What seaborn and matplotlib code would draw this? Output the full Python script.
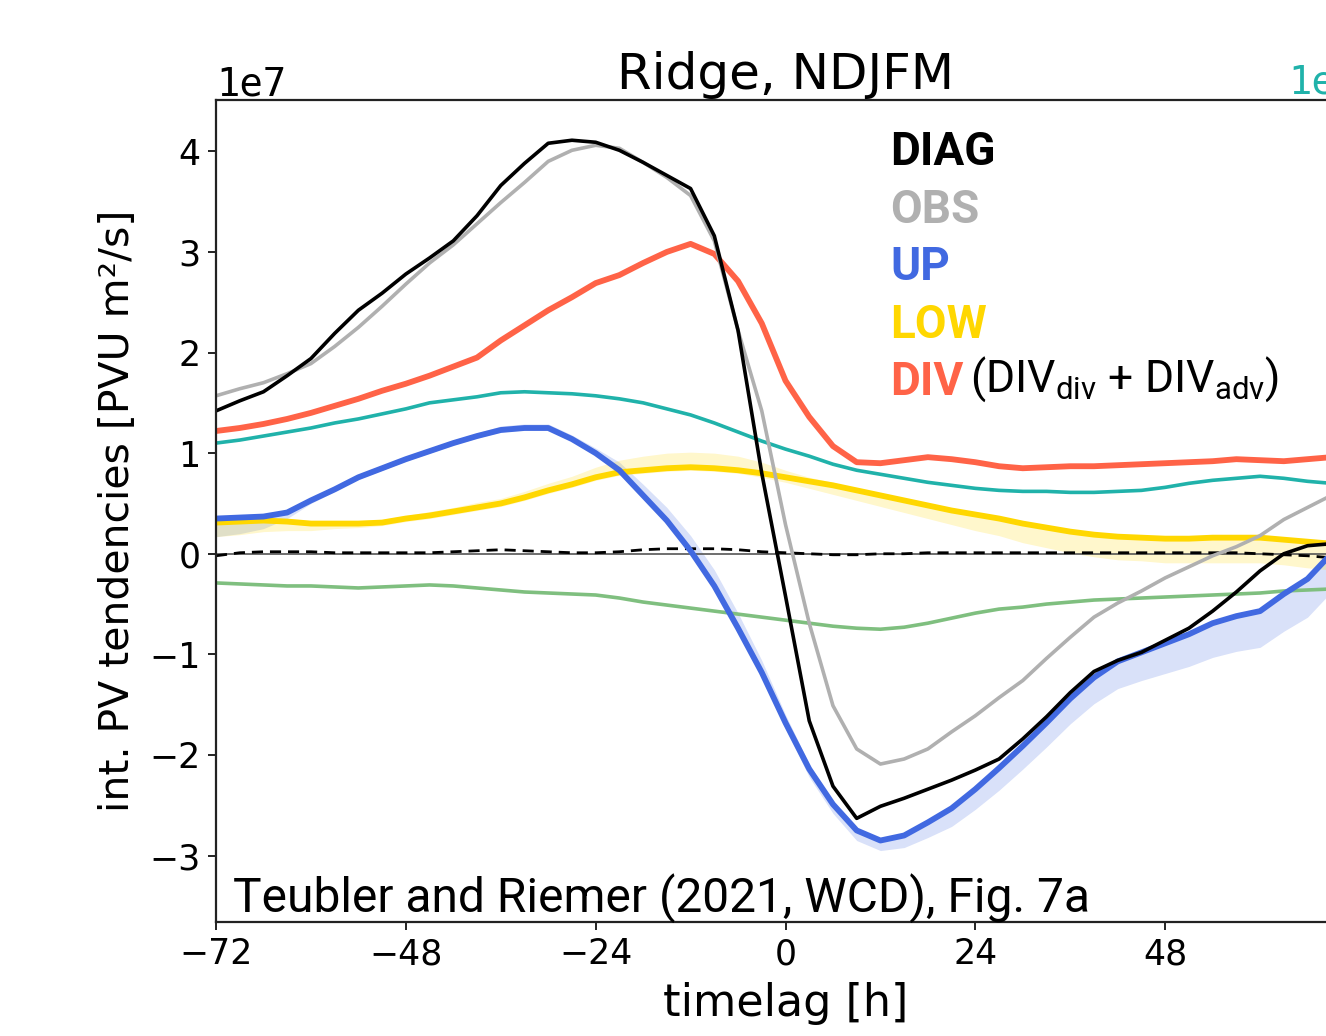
import numpy as np
import pandas as pd
import matplotlib
matplotlib.use("Agg")
import matplotlib.pyplot as plt
import seaborn as sns

# time lag relative to ridge onset [h], 3-hourly
timelag = list(range(-72, 73, 3))

# integrated PV tendencies, units of 1e7 PVU m^2/s
DIAG = [1.42, 1.52, 1.61, 1.77, 1.94, 2.19, 2.42, 2.59, 2.78, 2.94, 3.11, 3.36, 3.66,
        3.88, 4.08, 4.11, 4.09, 4.01, 3.89, 3.76, 3.63, 3.16, 2.22, 0.80, -0.42, -1.66,
        -2.31, -2.63, -2.51, -2.43, -2.34, -2.25, -2.15, -2.04, -1.84, -1.62, -1.38, -1.17,
        -1.06, -0.98, -0.86, -0.74, -0.57, -0.38, -0.17, 0.00, 0.08, 0.10, 0.11]
OBS = [1.57, 1.64, 1.70, 1.79, 1.89, 2.06, 2.25, 2.46, 2.68, 2.89, 3.07, 3.28, 3.49,
       3.69, 3.90, 4.01, 4.06, 4.03, 3.89, 3.74, 3.56, 3.11, 2.22, 1.42, 0.29, -0.69,
       -1.51, -1.94, -2.09, -2.04, -1.94, -1.77, -1.61, -1.43, -1.26, -1.04, -0.83, -0.63,
       -0.49, -0.37, -0.24, -0.13, -0.02, 0.07, 0.18, 0.34, 0.46, 0.58, 0.66]
UP = [0.35, 0.36, 0.37, 0.41, 0.53, 0.64, 0.76, 0.85, 0.94, 1.02, 1.10, 1.17, 1.23,
      1.25, 1.25, 1.14, 1.00, 0.83, 0.58, 0.33, 0.03, -0.32, -0.74, -1.18, -1.68, -2.14,
      -2.49, -2.75, -2.85, -2.80, -2.67, -2.53, -2.34, -2.13, -1.91, -1.68, -1.44, -1.23,
      -1.07, -0.98, -0.89, -0.80, -0.69, -0.62, -0.57, -0.40, -0.25, 0.00, 0.18]
LOW = [0.31, 0.32, 0.33, 0.32, 0.30, 0.30, 0.30, 0.31, 0.35, 0.38, 0.42, 0.46, 0.50,
       0.56, 0.63, 0.69, 0.76, 0.81, 0.83, 0.85, 0.86, 0.85, 0.83, 0.80, 0.76, 0.72,
       0.68, 0.63, 0.58, 0.53, 0.48, 0.43, 0.39, 0.35, 0.30, 0.26, 0.22, 0.19, 0.17,
       0.16, 0.15, 0.15, 0.16, 0.16, 0.16, 0.14, 0.12, 0.10, 0.09]
DIV = [1.22, 1.25, 1.29, 1.34, 1.40, 1.47, 1.54, 1.62, 1.69, 1.77, 1.86, 1.95, 2.12,
       2.27, 2.42, 2.55, 2.69, 2.77, 2.89, 3.00, 3.08, 2.98, 2.71, 2.29, 1.72, 1.36,
       1.07, 0.91, 0.90, 0.93, 0.96, 0.94, 0.91, 0.87, 0.85, 0.86, 0.87, 0.87, 0.88,
       0.89, 0.90, 0.91, 0.92, 0.94, 0.93, 0.92, 0.94, 0.96, 0.97]
DIV_div = [1.10, 1.13, 1.17, 1.21, 1.25, 1.30, 1.34, 1.39, 1.44, 1.50, 1.53, 1.56, 1.60,
           1.61, 1.60, 1.59, 1.57, 1.54, 1.50, 1.44, 1.38, 1.30, 1.21, 1.12, 1.04, 0.97,
           0.89, 0.83, 0.79, 0.75, 0.71, 0.68, 0.65, 0.63, 0.62, 0.62, 0.61, 0.61, 0.62,
           0.63, 0.66, 0.70, 0.73, 0.75, 0.77, 0.75, 0.72, 0.70, 0.69]
DIV_adv = [-0.29, -0.30, -0.31, -0.32, -0.32, -0.33, -0.34, -0.33, -0.32, -0.31, -0.32,
           -0.34, -0.36, -0.38, -0.39, -0.40, -0.41, -0.44, -0.48, -0.51, -0.54, -0.57,
           -0.60, -0.63, -0.66, -0.69, -0.72, -0.74, -0.75, -0.73, -0.69, -0.64, -0.59,
           -0.55, -0.53, -0.50, -0.48, -0.46, -0.45, -0.44, -0.43, -0.42, -0.41, -0.40,
           -0.39, -0.37, -0.36, -0.35, -0.34]
RES = [-0.02, 0.01, 0.02, 0.02, 0.02, 0.01, 0.01, 0.01, 0.01, 0.01, 0.02, 0.03, 0.04,
       0.03, 0.02, 0.01, 0.01, 0.02, 0.04, 0.05, 0.05, 0.05, 0.04, 0.02, 0.01, 0.00,
       -0.01, -0.01, 0.00, 0.00, 0.01, 0.01, 0.01, 0.01, 0.01, 0.01, 0.01, 0.01, 0.01,
       0.01, 0.01, 0.01, 0.01, 0.01, 0.00, -0.01, -0.02, -0.04, -0.05]

# spread of the UP and LOW ensembles (below / above the mean)
UP_below = [0.18, 0.16, 0.12, 0.06, 0.03, 0.02, 0.02, 0.02, 0.02, 0.02, 0.02, 0.02, 0.02,
            0.02, 0.02, 0.02, 0.02, 0.02, 0.02, 0.02, 0.02, 0.02, 0.03, 0.05, 0.06, 0.08,
            0.09, 0.10, 0.10, 0.12, 0.15, 0.18, 0.20, 0.22, 0.23, 0.24, 0.25, 0.26, 0.27,
            0.28, 0.30, 0.32, 0.34, 0.35, 0.36, 0.37, 0.38, 0.38, 0.38]
UP_above = [0.02, 0.02, 0.02, 0.02, 0.03, 0.03, 0.03, 0.03, 0.03, 0.03, 0.03, 0.03, 0.04,
            0.04, 0.04, 0.04, 0.05, 0.08, 0.11, 0.13, 0.15, 0.16, 0.15, 0.12, 0.08, 0.05,
            0.03, 0.02, 0.02, 0.02, 0.02, 0.02, 0.02, 0.02, 0.02, 0.02, 0.02, 0.02, 0.02,
            0.02, 0.02, 0.02, 0.02, 0.02, 0.02, 0.02, 0.02, 0.02, 0.02]
LOW_below = [0.14, 0.13, 0.11, 0.09, 0.07, 0.05, 0.04, 0.03, 0.03, 0.03, 0.03, 0.03, 0.03,
             0.03, 0.03, 0.03, 0.03, 0.03, 0.03, 0.03, 0.03, 0.03, 0.03, 0.04, 0.05, 0.07,
             0.09, 0.10, 0.11, 0.12, 0.13, 0.14, 0.16, 0.17, 0.19, 0.20, 0.21, 0.22, 0.23,
             0.23, 0.24, 0.24, 0.25, 0.25, 0.25, 0.25, 0.26, 0.26, 0.26]
LOW_above = [0.03, 0.03, 0.03, 0.03, 0.03, 0.03, 0.03, 0.03, 0.03, 0.04, 0.04, 0.05, 0.05,
             0.06, 0.07, 0.08, 0.10, 0.12, 0.14, 0.15, 0.15, 0.15, 0.14, 0.11, 0.07, 0.04,
             0.03, 0.02, 0.02, 0.02, 0.02, 0.02, 0.02, 0.02, 0.02, 0.02, 0.02, 0.02, 0.02,
             0.02, 0.02, 0.02, 0.02, 0.02, 0.02, 0.02, 0.02, 0.02, 0.02]

xticks = [-72, -48, -24, 0, 24, 48]
yticks = [-3, -2, -1, 0, 1, 2, 3, 4]

SCALE = 1e7

sns.set_style("ticks")
plt.rcParams["font.family"] = ["DejaVu Sans"]
plt.rcParams["text.color"] = "black"
plt.rcParams["axes.labelcolor"] = "black"
plt.rcParams["xtick.color"] = "black"
plt.rcParams["ytick.color"] = "black"
plt.rcParams["mathtext.fontset"] = "custom"
plt.rcParams["mathtext.rm"] = "Roboto"
plt.rcParams["mathtext.it"] = "Roboto:italic"
plt.rcParams["mathtext.bf"] = "Roboto:bold"

df = pd.DataFrame({
    "timelag": timelag,
    "DIAG": np.array(DIAG) * SCALE,
    "OBS": np.array(OBS) * SCALE,
    "UP": np.array(UP) * SCALE,
    "LOW": np.array(LOW) * SCALE,
    "DIV": np.array(DIV) * SCALE,
    "DIV_div": np.array(DIV_div) * SCALE,
    "DIV_adv": np.array(DIV_adv) * SCALE,
    "RES": np.array(RES) * SCALE,
})

W, H = 1326, 1036
fig = plt.figure(figsize=(W / 100, H / 100), dpi=100)
ax = fig.add_axes([216 / W, 114 / H, (1355 - 216) / W, (922 - 100) / H])

c_up, c_low, c_div = "#4169e1", "#ffd700", "#ff6347"
c_teal, c_green = "#20b2aa", "#7fbf7f"

# ensemble spread
t = np.array(timelag)
up, low = df["UP"].to_numpy(), df["LOW"].to_numpy()
ax.fill_between(t, up - np.array(UP_below) * SCALE, up + np.array(UP_above) * SCALE,
                color=c_up, alpha=0.2, lw=0)
ax.fill_between(t, low - np.array(LOW_below) * SCALE, low + np.array(LOW_above) * SCALE,
                color=c_low, alpha=0.2, lw=0)

ax.axhline(0, color="#555555", lw=1.2, zorder=1)

sns.lineplot(data=df, x="timelag", y="DIV_adv", ax=ax, color=c_green, lw=2.6)
sns.lineplot(data=df, x="timelag", y="DIV_div", ax=ax, color=c_teal, lw=2.6)
sns.lineplot(data=df, x="timelag", y="RES", ax=ax, color="black", lw=2.0, ls=(0, (4, 2.5)))
sns.lineplot(data=df, x="timelag", y="LOW", ax=ax, color=c_low, lw=4.2)
sns.lineplot(data=df, x="timelag", y="UP", ax=ax, color=c_up, lw=4.2)
sns.lineplot(data=df, x="timelag", y="DIV", ax=ax, color=c_div, lw=4.2)
sns.lineplot(data=df, x="timelag", y="OBS", ax=ax, color="#b0b0b0", lw=2.6)
sns.lineplot(data=df, x="timelag", y="DIAG", ax=ax, color="black", lw=2.6)

ax.set_xlim(-72, 72)
ax.set_ylim(-3.66e7, 4.51e7)
ax.set_xticks(xticks)
ax.set_yticks(np.array(yticks) * SCALE)

for side in ["left", "bottom", "top", "right"]:
    ax.spines[side].set_visible(True)
    ax.spines[side].set_color("#222222")
    ax.spines[side].set_linewidth(1.6)
ax.tick_params(axis="both", labelsize=25, length=6, width=1.4, color="#222222",
               direction="out", pad=5)
ax.yaxis.get_offset_text().set_fontsize(28)
ax.yaxis.get_offset_text().set_family("DejaVu Sans Mono")

ax.set_title("Ridge, NDJFM", fontsize=36, pad=8)
ax.set_xlabel("timelag [h]", fontsize=32, labelpad=8)
ax.set_ylabel("int. PV tendencies [PVU m²/s]", fontsize=29.5, labelpad=8)

# offset label of the secondary (DIV_div) scale
fig.text(1288 / W, (1036 - 93) / H, "1e7", color=c_teal, fontsize=28,
         family="DejaVu Sans Mono", va="baseline")

# legend entries
lx = 890 / W
entries = [("DIAG", "black", 165), ("OBS", "#b0b0b0", 223), ("UP", c_up, 280),
           ("LOW", c_low, 338)]
for label, col, yb in entries:
    fig.text(lx, (H - yb) / H, label, color=col, fontsize=33, family="Roboto",
             weight="bold", va="baseline")
t_div = fig.text(lx, (H - 395) / H, "DIV", color=c_div, fontsize=33, family="Roboto",
                 weight="bold", va="baseline")
ax.annotate(r"(DIV$_{\mathrm{div}}$ + DIV$_{\mathrm{adv}}$)", xy=(1, 0), xycoords=t_div,
            xytext=(5, 0), textcoords="offset points", fontsize=32, family="Roboto",
            color="black", va="bottom", ha="left", annotation_clip=False)

fig.text(233 / W, (H - 912) / H, "Teubler and Riemer (2021, WCD), Fig. 7a",
         fontsize=34.5, family="Roboto", va="baseline")

fig.savefig("out.png", dpi=100)
